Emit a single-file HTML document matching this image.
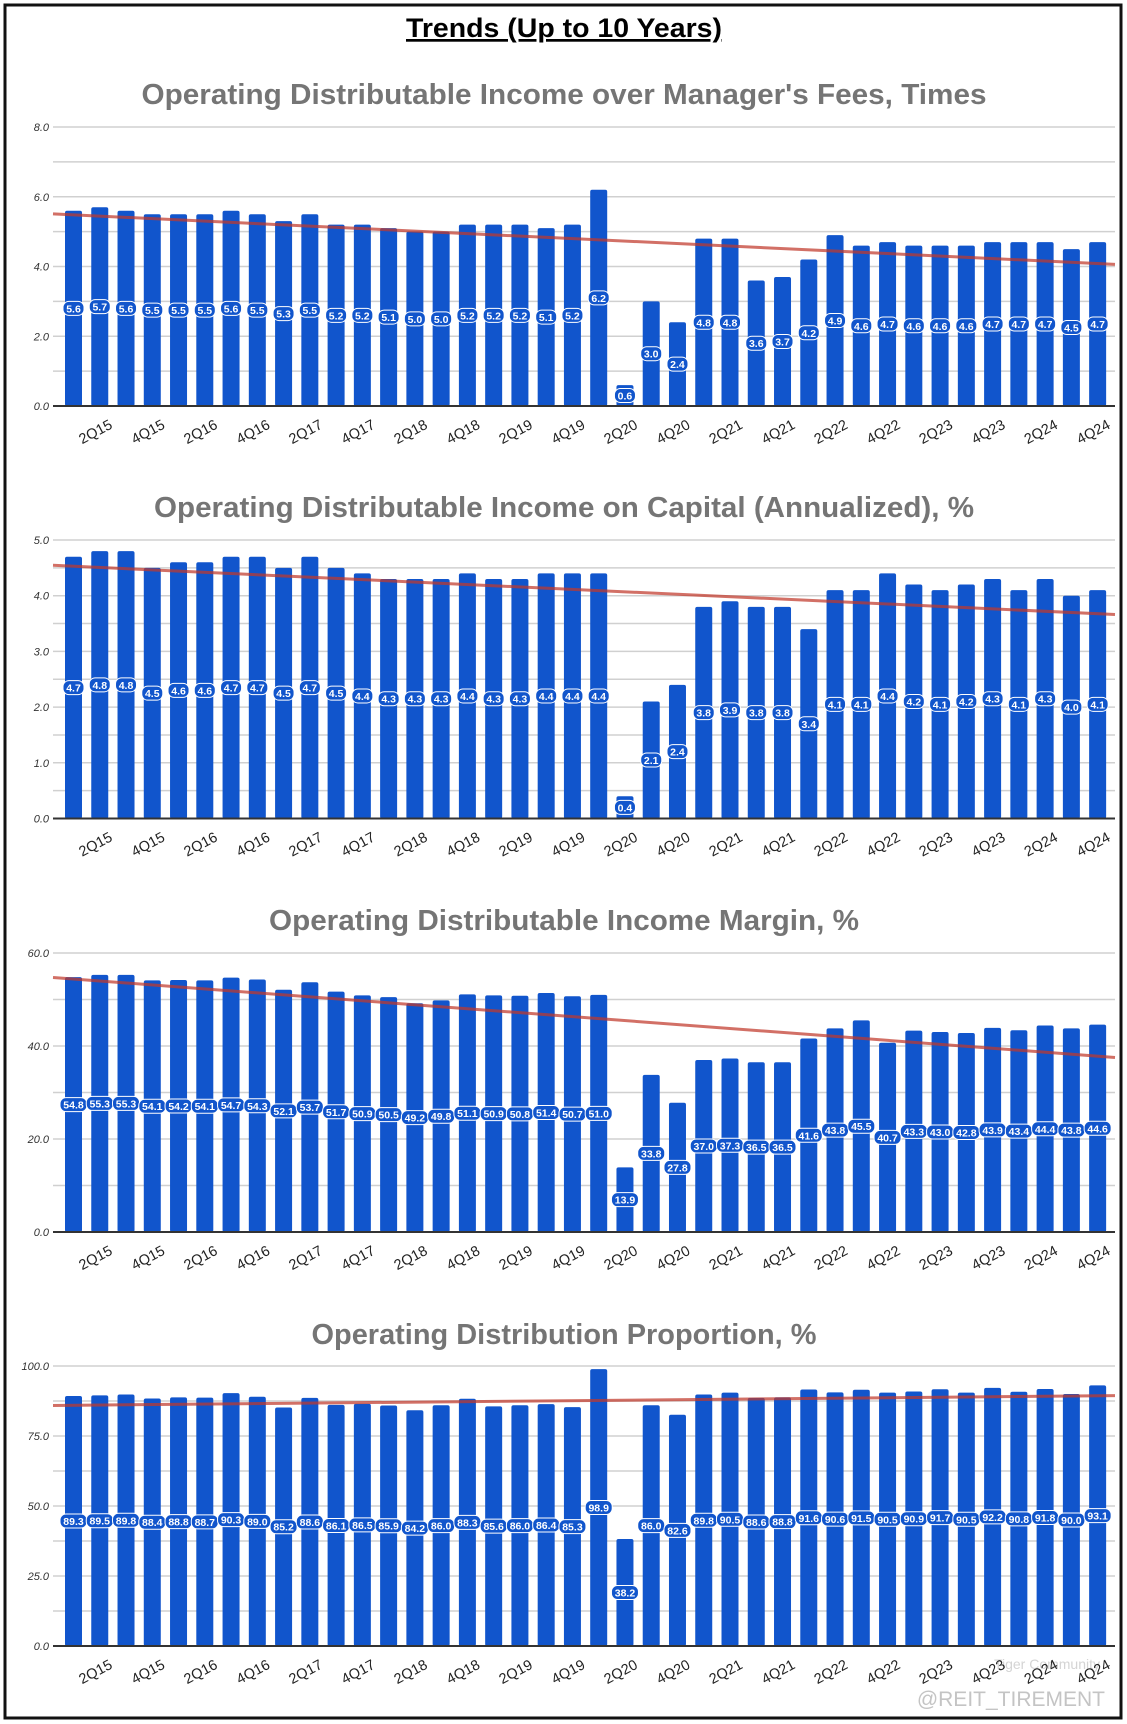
<!DOCTYPE html>
<html><head><meta charset="utf-8"><style>
html,body{margin:0;padding:0;background:#fff;}
svg{display:block;font-family:"Liberation Sans",sans-serif;}
</style></head><body>
<svg id="root" width="1127" height="1724" viewBox="0 0 1127 1724" xmlns="http://www.w3.org/2000/svg">
<rect x="5" y="5" width="1116" height="1713" fill="#fff" stroke="#111" stroke-width="3"/>
<text x="564" y="37" text-anchor="middle" font-size="27" font-weight="bold" fill="#000" text-decoration="underline" textLength="316" lengthAdjust="spacingAndGlyphs">Trends (Up to 10 Years)</text>
<text x="1105" y="1706" text-anchor="end" font-size="21" fill="#c4c4c4">@REIT_TIREMENT</text>
<text x="1100" y="1669" text-anchor="end" font-size="14" fill="#d4d4d4">Tiger Community</text>
</svg>
<script>
const categories=[];
for(let y=15;y<=24;y++){for(let q=1;q<=4;q++){categories.push(q+"Q"+y);}}
const seriesFees=[5.6,5.7,5.6,5.5,5.5,5.5,5.6,5.5,5.3,5.5,5.2,5.2,5.1,5.0,5.0,5.2,5.2,5.2,5.1,5.2,6.2,0.6,3.0,2.4,4.8,4.8,3.6,3.7,4.2,4.9,4.6,4.7,4.6,4.6,4.6,4.7,4.7,4.7,4.5,4.7];
const seriesCapital=[4.7,4.8,4.8,4.5,4.6,4.6,4.7,4.7,4.5,4.7,4.5,4.4,4.3,4.3,4.3,4.4,4.3,4.3,4.4,4.4,4.4,0.4,2.1,2.4,3.8,3.9,3.8,3.8,3.4,4.1,4.1,4.4,4.2,4.1,4.2,4.3,4.1,4.3,4.0,4.1];
const seriesMargin=[54.8,55.3,55.3,54.1,54.2,54.1,54.7,54.3,52.1,53.7,51.7,50.9,50.5,49.2,49.8,51.1,50.9,50.8,51.4,50.7,51.0,13.9,33.8,27.8,37.0,37.3,36.5,36.5,41.6,43.8,45.5,40.7,43.3,43.0,42.8,43.9,43.4,44.4,43.8,44.6];
const seriesProportion=[89.3,89.5,89.8,88.4,88.8,88.7,90.3,89.0,85.2,88.6,86.1,86.5,85.9,84.2,86.0,88.3,85.6,86.0,86.4,85.3,98.9,38.2,86.0,82.6,89.8,90.5,88.6,88.8,91.6,90.6,91.5,90.5,90.9,91.7,90.5,92.2,90.8,91.8,90.0,93.1];
const ticksFees=["0.0","2.0","4.0","6.0","8.0"];
const ticksCapital=["0.0","1.0","2.0","3.0","4.0","5.0"];
const ticksMargin=["0.0","20.0","40.0","60.0"];
const ticksProportion=["0.0","25.0","50.0","75.0","100.0"];
const titles=["Operating Distributable Income over Manager's Fees, Times","Operating Distributable Income on Capital (Annualized), %","Operating Distributable Income Margin, %","Operating Distribution Proportion, %"];

const NS="http://www.w3.org/2000/svg";
const root=document.getElementById('root');
function mk(tag,attrs,parent){const e=document.createElementNS(NS,tag);for(const k in attrs)e.setAttribute(k,attrs[k]);(parent||root).appendChild(e);return e;}

const charts=[
 {key:'fees',data:seriesFees,ticks:ticksFees,max:8,grid:1,top:127,base:406,titleY:104,titleW:845,title:titles[0]},
 {key:'capital',data:seriesCapital,ticks:ticksCapital,max:5,grid:0.5,top:540,base:818.5,titleY:517,titleW:820,title:titles[1]},
 {key:'margin',data:seriesMargin,ticks:ticksMargin,max:60,grid:10,top:953,base:1232,titleY:930,titleW:590,title:titles[2]},
 {key:'proportion',data:seriesProportion,ticks:ticksProportion,max:100,grid:12.5,top:1366,base:1646,titleY:1344,titleW:505,title:titles[3]}
];
const X0=73.5,STEP=26.26,BW=17,GL=53,GR=1115;
function xPos(i){return X0+i*STEP;}

charts.forEach(c=>{
 const g=mk('g',{},root);
 
 
 const yPos=v=>c.base-(v/c.max)*(c.base-c.top);
 const t=mk('text',{x:564,y:c.titleY,'text-anchor':'middle','font-size':29,'font-weight':'bold',fill:'#757575',textLength:c.titleW,lengthAdjust:'spacingAndGlyphs'},g);
 t.textContent=c.title;
 
 
 for(let v=c.grid;v<=c.max+1e-9;v+=c.grid){
  const ln=mk('line',{x1:GL,x2:GR,y1:yPos(v),y2:yPos(v),stroke:'#d0d0d0','stroke-width':1.5},g);
  
  
 }
 c.ticks.forEach((lab,k)=>{
  const v=c.max*k/(c.ticks.length-1);
  const tt=mk('text',{x:49,y:yPos(v)+4,'text-anchor':'end','font-size':11,'font-style':'italic',fill:'#333'},g);
  tt.textContent=lab;
  
  
 });
 c.data.forEach((v,i)=>{
  const y=yPos(v);
  const b=mk('rect',{x:xPos(i)-BW/2,y:y,width:BW,height:c.base-y,rx:2,fill:'#1155cc'},g);
  
  
 });
 const n=c.data.length;let sx=0,sy=0,sxy=0,sxx=0;
 c.data.forEach((v,i)=>{sx+=i;sy+=v;sxy+=i*v;sxx+=i*i;});
 const m=(n*sxy-sx*sy)/(n*sxx-sx*sx),bb=(sy-m*sx)/n;
 const iL=(GL-X0)/STEP,iR=(GR-X0)/STEP;
 const tl=mk('line',{x1:GL,y1:yPos(bb+m*iL),x2:GR,y2:yPos(bb+m*iR),stroke:'#c0392b','stroke-width':3,'stroke-opacity':0.72},g);
 
 
 const ax=mk('line',{x1:GL,x2:GR,y1:c.base,y2:c.base,stroke:'#333','stroke-width':2},g);
 
 
 c.data.forEach((v,i)=>{
  const y=yPos(v);
  let ly=(y+c.base)/2;
  if(ly>c.base-9)ly=c.base-9;
  const txt=v.toFixed(1);
  const w=txt.length>3?27:21;
  const bx=mk('rect',{x:xPos(i)-w/2,y:ly-7,width:w,height:14,rx:6,fill:'#1155cc',stroke:'#fff','stroke-width':1},g);
  
  
  const lt=mk('text',{x:xPos(i),y:ly+4,'text-anchor':'middle','font-size':10.5,'font-weight':'bold',fill:'#fff'},g);
  lt.textContent=txt;
  
  
 });
 categories.forEach((cat,i)=>{
  if(i%2!==1)return;
  const x=xPos(i)-2,y=c.base+30;
  const xt=mk('text',{x:x,y:y,'text-anchor':'middle','font-size':14.5,fill:'#222',transform:'rotate(-28 '+x+' '+y+')'},g);
  xt.textContent=cat;
  
  
 });
});
</script>
</body></html>
